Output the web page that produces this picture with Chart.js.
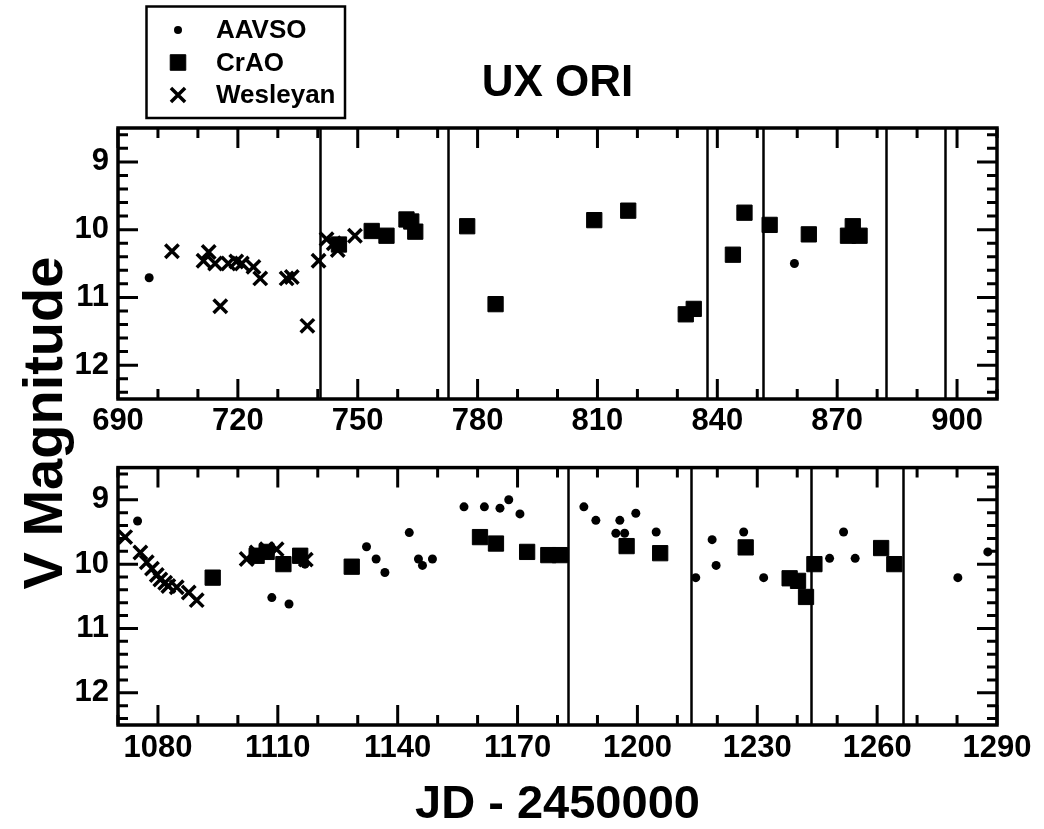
<!DOCTYPE html>
<html>
<head>
<meta charset="utf-8">
<title>UX ORI</title>
<script src="https://cdn.jsdelivr.net/npm/chart.js@4.4.1/dist/chart.umd.min.js"></script>
<style>
  html, body { margin: 0; padding: 0; background: #fff; }
  #wrap { position: relative; width: 1044px; height: 829px; overflow: hidden; background: #fff; }
  #wrap canvas { position: absolute; left: 0; }
  #topChart { top: 0; }
  #bottomChart { top: 440px; }
  #ylabel {
    position: absolute; width: 420px; height: 56px; left: -167.4px; top: 394.5px;
    font: bold 56px "Liberation Sans", Arial, sans-serif; line-height: 56px;
    text-align: center; white-space: nowrap; color: #000;
    transform: rotate(-90deg);
  }
</style>
</head>
<body>
<div id="wrap">
  <canvas id="topChart" width="1044" height="440"></canvas>
  <canvas id="bottomChart" width="1044" height="389"></canvas>
  <div id="ylabel">V Magnitude</div>
</div>
<script>
'use strict';

// Axis ranges and tick labels
const topRange = [690, 910];
const bottomRange = [1070, 1290];
const magRange = [8.5, 12.5];
const topXTicks = [690, 720, 750, 780, 810, 840, 870, 900];
const bottomXTicks = [1080, 1110, 1140, 1170, 1200, 1230, 1260, 1290];
const magTicks = [9, 10, 11, 12];

// Season 1: [JD - 2450000, V]
const topAavso = [[697.8, 10.71], [859.3, 10.50]];
const topCrao = [
  [745.3, 10.22], [753.5, 10.02], [757.2, 10.09], [762.2, 9.85], [763.4, 9.88],
  [764.4, 10.03], [777.4, 9.95], [784.5, 11.10], [809.2, 9.86], [817.7, 9.72],
  [832.1, 11.25], [834.1, 11.17], [843.9, 10.37], [846.8, 9.75], [853.1, 9.93],
  [862.9, 10.07], [872.7, 10.09], [873.9, 9.95], [875.6, 10.09]
];
const topWesleyan = [
  [703.5, 10.32], [711.4, 10.46], [712.7, 10.33], [714.3, 10.50], [715.6, 11.13],
  [717.6, 10.50], [719.6, 10.47], [721.0, 10.50], [723.9, 10.55], [725.6, 10.72],
  [732.2, 10.72], [733.5, 10.70], [737.4, 11.42], [740.2, 10.46], [742.2, 10.14],
  [744.0, 10.20], [745.0, 10.30], [749.3, 10.09]
];

// Season 2
const bottomAavso = [
  [1074.9, 9.33], [1108.5, 10.52], [1112.8, 10.62], [1116.8, 10.00], [1132.2, 9.73],
  [1134.6, 9.92], [1136.8, 10.13], [1142.9, 9.51], [1145.2, 9.92], [1146.2, 10.02],
  [1148.7, 9.92], [1156.6, 9.11], [1161.7, 9.11], [1165.6, 9.13], [1167.8, 9.00],
  [1170.6, 9.22], [1186.6, 9.11], [1189.6, 9.32], [1194.6, 9.52], [1195.6, 9.32],
  [1196.8, 9.52], [1199.6, 9.21], [1204.7, 9.50], [1214.6, 10.21], [1218.7, 9.62],
  [1219.7, 10.02], [1226.6, 9.50], [1231.6, 10.21], [1248.1, 9.91], [1251.6, 9.50],
  [1254.5, 9.91], [1280.2, 10.21], [1287.7, 9.81]
];
const bottomCrao = [
  [1093.7, 10.21], [1104.7, 9.87], [1107.2, 9.81], [1111.4, 10.00], [1115.6, 9.87],
  [1128.5, 10.04], [1160.6, 9.58], [1164.6, 9.68], [1172.4, 9.81], [1177.7, 9.86],
  [1180.6, 9.86], [1197.3, 9.72], [1205.7, 9.83], [1227.1, 9.74], [1238.1, 10.22],
  [1240.2, 10.26], [1242.2, 10.51], [1244.3, 10.00], [1261.0, 9.75], [1264.3, 10.00]
];
const bottomWesleyan = [
  [1071.8, 9.58], [1075.6, 9.82], [1077.2, 9.97], [1078.5, 10.07], [1079.7, 10.17],
  [1080.6, 10.24], [1081.8, 10.29], [1082.6, 10.34], [1084.7, 10.36], [1087.7, 10.44],
  [1089.7, 10.56], [1102.2, 9.92], [1104.7, 9.82], [1107.2, 9.77], [1109.7, 9.77],
  [1117.0, 9.93]
];

// Vertical separator lines (JD - 2450000)
const topBreaks = [740.6, 772.6, 837.3, 851.4, 882.2, 897.1];
const bottomBreaks = [1182.7, 1213.5, 1243.5, 1266.4];

const FONT = "'Liberation Sans', Arial, Helvetica, sans-serif";
const MINOR_X = 10;
const MINOR_Y = 0.2;

const toPoints = arr => arr.map(([x, y]) => ({ x, y }));

function datasets(aavso, crao, wes) {
  return [
    {
      label: 'AAVSO', data: toPoints(aavso), pointStyle: 'circle', pointRadius: 4.5,
      backgroundColor: '#000', borderColor: '#000', borderWidth: 0
    },
    {
      label: 'CrAO', data: toPoints(crao), pointStyle: 'rect', pointRadius: 10.8,
      backgroundColor: '#000', borderColor: '#000', borderWidth: 1
    },
    {
      label: 'Wesleyan', data: toPoints(wes), pointStyle: 'crossRot', pointRadius: 9.5,
      backgroundColor: '#000', borderColor: '#000', borderWidth: 3.5
    }
  ];
}

// Separator lines, boxed frame and inward ticks on all four sides
const framePlugin = {
  id: 'frame',
  beforeDatasetsDraw(chart, args, opts) {
    const { ctx, chartArea: a, scales: { x } } = chart;
    ctx.save();
    ctx.strokeStyle = '#000';
    ctx.lineWidth = 2.5;
    (opts.breaks || []).forEach(v => {
      const px = Math.round(x.getPixelForValue(v)) + 0.5;
      ctx.beginPath();
      ctx.moveTo(px, a.top);
      ctx.lineTo(px, a.bottom);
      ctx.stroke();
    });
    ctx.restore();
  },
  afterDatasetsDraw(chart) {
    const { ctx, chartArea: a, scales: { x, y } } = chart;
    const major = 20, minor = 10;
    ctx.save();
    ctx.strokeStyle = '#000';
    ctx.lineWidth = 3;
    ctx.beginPath();
    for (let v = Math.ceil(x.min / MINOR_X) * MINOR_X; v <= x.max; v += MINOR_X) {
      const px = x.getPixelForValue(v);
      const len = x.ticks.some(t => t.value === v) ? major : minor;
      ctx.moveTo(px, a.bottom); ctx.lineTo(px, a.bottom - len);
      ctx.moveTo(px, a.top); ctx.lineTo(px, a.top + len);
    }
    const n0 = Math.ceil(y.min / MINOR_Y - 1e-6), n1 = Math.floor(y.max / MINOR_Y + 1e-6);
    for (let i = n0; i <= n1; i++) {
      const v = i * MINOR_Y;
      const py = y.getPixelForValue(v);
      const len = Math.abs(v - Math.round(v)) < 1e-6 ? major : minor;
      ctx.moveTo(a.left, py); ctx.lineTo(a.left + len, py);
      ctx.moveTo(a.right, py); ctx.lineTo(a.right - len, py);
    }
    ctx.stroke();
    ctx.lineWidth = 3.5;
    ctx.strokeRect(a.left, a.top, a.right - a.left, a.bottom - a.top);
    ctx.restore();
  }
};

// Boxed symbol key in the top-left corner
const keyPlugin = {
  id: 'boxKey',
  afterDraw(chart, args, opts) {
    if (!opts.show) return;
    const ctx = chart.ctx;
    const sizes = [4, 11, 10];
    ctx.save();
    ctx.strokeStyle = '#000';
    ctx.fillStyle = '#000';
    ctx.lineWidth = 2.5;
    ctx.strokeRect(146.5, 6.5, 198.5, 111.5);
    ctx.font = 'bold 26px ' + FONT;
    ctx.textBaseline = 'middle';
    chart.data.datasets.forEach((ds, i) => {
      const cy = 30 + i * 32.5;
      ctx.lineWidth = ds.borderWidth || 1;
      Chart.helpers.drawPoint(ctx, {
        pointStyle: ds.pointStyle, radius: sizes[i], rotation: 0, borderWidth: ds.borderWidth
      }, 178, cy);
      ctx.fillText(ds.label, 216, cy + 1);
    });
    ctx.restore();
  }
};

function makePanel(canvasId, cfg) {
  return new Chart(document.getElementById(canvasId), {
    type: 'scatter',
    data: { datasets: datasets(cfg.aavso, cfg.crao, cfg.wes) },
    plugins: [framePlugin, keyPlugin],
    options: {
      responsive: false,
      animation: false,
      events: [],
      devicePixelRatio: 1,
      layout: { padding: { left: 0, right: 47, top: cfg.padTop, bottom: 0 } },
      plugins: {
        legend: { display: false },
        tooltip: { enabled: false },
        title: cfg.title ? {
          display: true,
          text: cfg.title,
          fullSize: false,
          color: '#000',
          font: { family: FONT, size: 44, weight: 'bold', lineHeight: 1.2 },
          padding: { top: 57.6, bottom: 17.6 }
        } : { display: false },
        frame: { breaks: cfg.breaks },
        boxKey: { show: !!cfg.key }
      },
      scales: {
        x: {
          type: 'linear',
          min: cfg.range[0],
          max: cfg.range[1],
          afterBuildTicks: s => { s.ticks = cfg.ticks.map(v => ({ value: v })); },
          afterFit: s => { s.height = cfg.xHeight; },
          grid: { display: false, drawTicks: false },
          border: { display: false },
          ticks: {
            color: '#000', padding: cfg.tickPad, maxRotation: 0, autoSkip: false,
            callback: v => String(v),
            font: { family: FONT, size: 31, weight: 'bold', lineHeight: 1.2 }
          },
          title: cfg.xTitle ? {
            display: true, text: cfg.xTitle, color: '#000',
            font: { family: FONT, size: 47, weight: 'bold', lineHeight: 1.0 },
            padding: { top: 0, bottom: 0 }
          } : { display: false }
        },
        y: {
          type: 'linear',
          reverse: true,
          min: magRange[0],
          max: magRange[1],
          afterBuildTicks: s => { s.ticks = magTicks.map(v => ({ value: v })); },
          afterFit: s => { s.width = 118; },
          grid: { display: false, drawTicks: false },
          border: { display: false },
          ticks: {
            color: '#000', padding: 9,
            callback: v => String(v),
            font: { family: FONT, size: 31, weight: 'bold' }
          }
        }
      }
    }
  });
}

makePanel('topChart', {
  aavso: topAavso, crao: topCrao, wes: topWesleyan,
  range: topRange, ticks: topXTicks, breaks: topBreaks,
  title: 'UX ORI', key: true, padTop: 0, xHeight: 41, tickPad: 4
});

makePanel('bottomChart', {
  aavso: bottomAavso, crao: bottomCrao, wes: bottomWesleyan,
  range: bottomRange, ticks: bottomXTicks, breaks: bottomBreaks,
  xTitle: 'JD - 2450000', padTop: 13, xHeight: 104, tickPad: 5
});
</script>
</body>
</html>
